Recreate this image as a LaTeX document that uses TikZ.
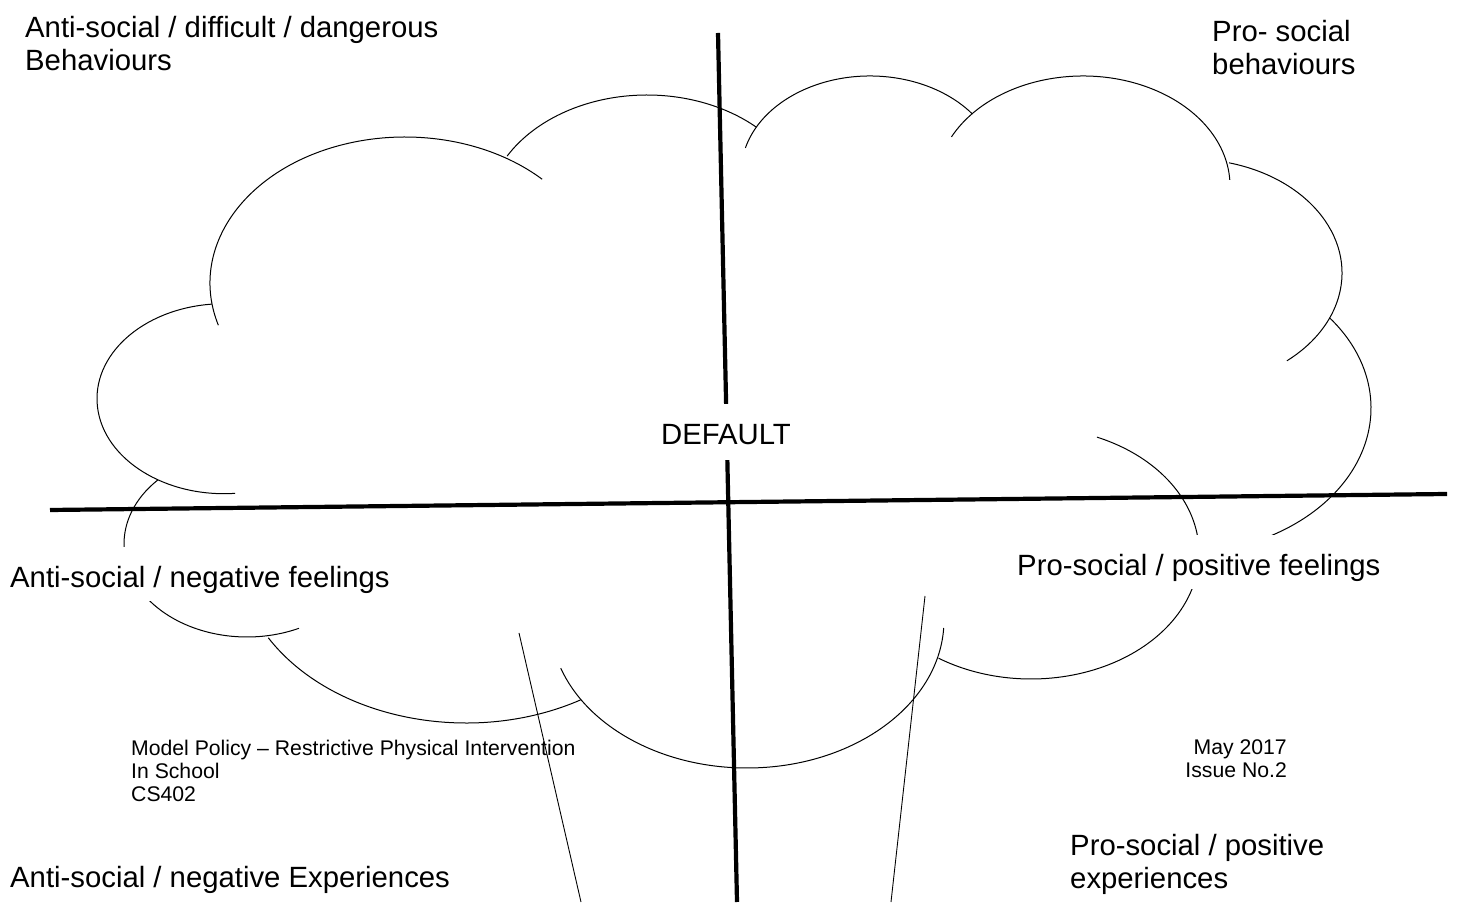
\documentclass[tikz,border=0pt]{standalone}
\usepackage{fontspec}
\setmainfont{Liberation Sans}
\begin{document}
\begin{tikzpicture}[x=1pt, y=1pt,
		cloudline/.style = {line width=1pt, color=black},
		axisline/.style = {line width=4.2pt, color=black},
		trunkline/.style = {line width=0.9pt, color=black},
		biglbl/.style = {font=\fontsize{29.3}{33}\selectfont, inner sep=0pt, align=left},
		smalllbl/.style = {font=\fontsize{21.2}{23}\selectfont, inner sep=0pt},
		maskbox/.style = {fill=white, text height=26pt, text depth=0pt,
		                  inner xsep=5pt, inner ysep=14pt}]
	\useasboundingbox (0,0) rectangle (1458,902);
	% cloud
	\draw[cloudline] (224,503.3) ++(95.4:127 and 95) arc[start angle=95.4, end angle=275, x radius=127, y radius=95];
	\draw[cloudline] (405,619) ++(196.8:195 and 146) arc[start angle=196.8, end angle=45.3, x radius=195, y radius=146];
	\draw[cloudline] (647,686) ++(150.3:161 and 121) arc[start angle=150.3, end angle=47.3, x radius=161, y radius=121];
	\draw[cloudline] (870,729) ++(165:129 and 97) arc[start angle=165, end angle=37.5, x radius=129, y radius=97];
	\draw[cloudline] (1083,716) ++(153.5:147 and 110) arc[start angle=153.5, end angle=3.2, x radius=147, y radius=110];
	\draw[cloudline] (1190,629) ++(75.1:152 and 114) arc[start angle=75.1, end angle=-50.4, x radius=152, y radius=114];
	\draw[cloudline] (1177,494) ++(38:194 and 146) arc[start angle=38, end angle=-68, x radius=194, y radius=146];
	\draw[cloudline] (1031,349) ++(66.9:168 and 126) arc[start angle=66.9, end angle=-123.4, x radius=168, y radius=126];
	\draw[cloudline] (747,282) ++(-3.1:197 and 148) arc[start angle=-3.1, end angle=-161, x radius=197, y radius=148];
	\draw[cloudline] (466,351) ++(-149.7:229 and 172) arc[start angle=-149.7, end angle=-59.8, x radius=229, y radius=172];
	\draw[cloudline] (247,358) ++(136.5:123 and 93) arc[start angle=136.5, end angle=295, x radius=123, y radius=93];
	% trunk
	\coordinate (ltrunktop) at (519,269);
	\coordinate (ltrunkbot) at (581,0);
	\coordinate (rtrunktop) at (925,306);
	\coordinate (rtrunkbot) at (891,0);
	\draw[trunkline] (ltrunktop) -- (ltrunkbot);
	\draw[trunkline] (rtrunktop) -- (rtrunkbot);
	% axes
	\coordinate (vtop) at (718,869);
	\coordinate (vbot) at (737,0);
	\coordinate (hleft) at (50,392);
	\coordinate (hright) at (1447,408);
	\draw[axisline] (vtop) -- (vbot);
	\draw[axisline] (hleft) -- (hright);
	% labels
	\node[biglbl, maskbox, inner ysep=15pt, anchor=base] (default) at (726,457) {DEFAULT};
	\node[biglbl, anchor=north west] (antibeh) at (25,886) {Anti-social / difficult / dangerous\\Behaviours};
	\node[biglbl, anchor=north west] (probeh) at (1212,882) {Pro- social\\behaviours};
	\node[biglbl, maskbox, anchor=base west] (antifeel) at (5,314.5) {Anti-social / negative feelings};
	\node[biglbl, maskbox, anchor=base west] (profeel) at (1012,326.5) {Pro-social / positive feelings};
	\node[smalllbl, align=left, anchor=north west] (policy) at (131,162.5) {Model Policy – Restrictive Physical Intervention\\In School\\CS402};
	\node[smalllbl, align=right, anchor=north east] (issue) at (1287,162.5) {May 2017\\Issue No.2};
	\node[biglbl, anchor=north west] (proexp) at (1070,67.5) {Pro-social / positive\\experiences};
	\node[biglbl, anchor=base west] (antiexp) at (10,14.5) {Anti-social / negative Experiences};
\end{tikzpicture}
\end{document}
